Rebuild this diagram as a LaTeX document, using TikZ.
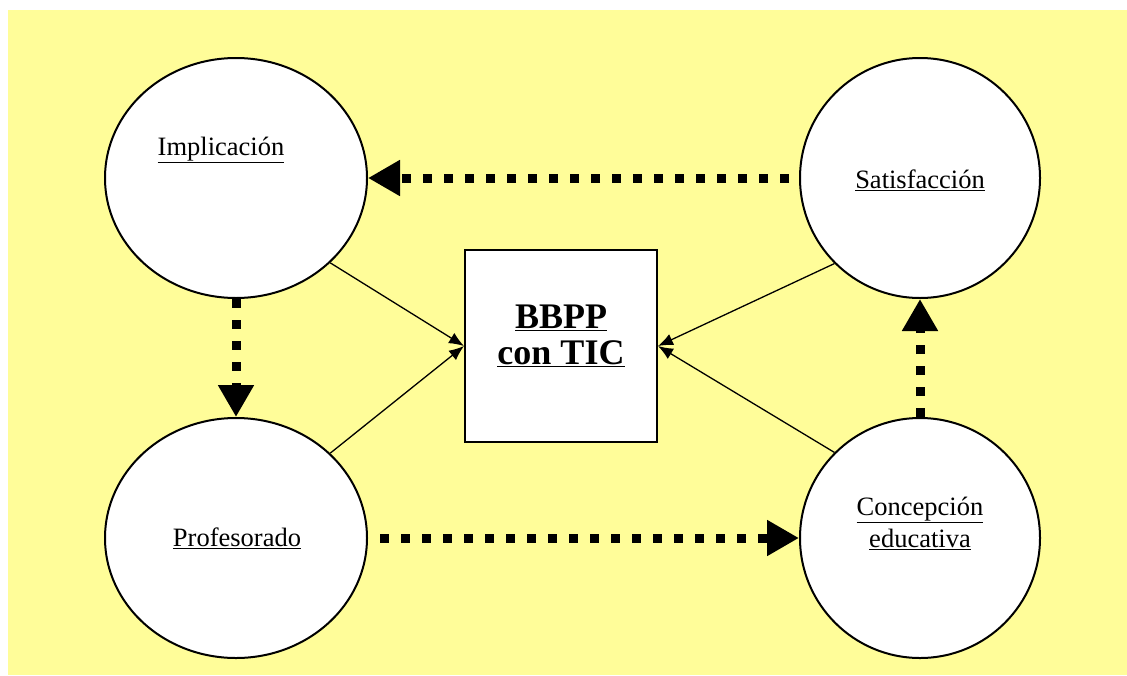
\documentclass[tikz,border=0pt]{standalone}
\usepackage{fontspec}
\setmainfont{Liberation Serif}
\usepackage{tikz}
\usetikzlibrary{arrows.meta,positioning,shapes.geometric}
\definecolor{bgyellow}{RGB}{255,253,153}

\begin{document}
\begin{tikzpicture}[
  x=1pt, y=-1pt,
  factor/.style={ellipse, draw=black, line width=2pt, fill=white, inner sep=0pt, minimum width=262pt, minimum height=240pt, font=\fontsize{26.5}{31}\selectfont},
  centre/.style={rectangle, draw=black, line width=2pt, fill=white, inner sep=0pt, minimum width=192pt, minimum height=192pt},
  dotarrow/.style={-{Triangle[length=32pt,width=34pt]}, line width=9pt, dash pattern=on 9pt off 12pt},
  arrow/.style={-{Latex[length=15pt,width=12pt]}, line width=1.3pt}
]
\useasboundingbox (0,0) rectangle (1127,675);
\fill[bgyellow] (8,10) rectangle (1127,675);

\node[factor] (impl) at (236,178) {};
\node[factor, minimum width=240pt] (sat) at (920,178) {};
\node[factor] (prof) at (236,538) {};
\node[factor, minimum width=240pt] (conc) at (920,538) {};
\node[centre] (bbpp) at (561,346) {};

% textos
\node[font=\fontsize{26.5}{31}\selectfont] (implText) at (221,150) {\underline{Implicación}};
\node[font=\fontsize{26.5}{31}\selectfont] (satText) at (920,180) {\underline{Satisfacción}};
\node[font=\fontsize{26.5}{31}\selectfont] (profText) at (237,538) {\underline{Profesorado}};
\node[font=\fontsize{26.5}{31}\selectfont, align=center] (concText) at (920,523) {\underline{Concepción}\\[1pt]\underline{educativa}};
\node[font=\bfseries\fontsize{36}{36}\selectfont, align=center] (bbppText) at (561,336) {\underline{BBPP}\\\underline{con TIC}};

\draw[dotarrow, shorten <=10pt] (sat) -- (impl);
\draw[dotarrow] (impl) -- (prof);
\draw[dotarrow, shorten <=12pt] (prof) -- (conc);
\draw[dotarrow] (conc) -- (sat);

\draw[arrow] (impl.-42) -- (bbpp.west);
\draw[arrow] (prof.42) -- (bbpp.west);
\draw[arrow] (sat.225) -- (bbpp.east);
\draw[arrow] (conc.135) -- (bbpp.east);
\end{tikzpicture}
\end{document}
